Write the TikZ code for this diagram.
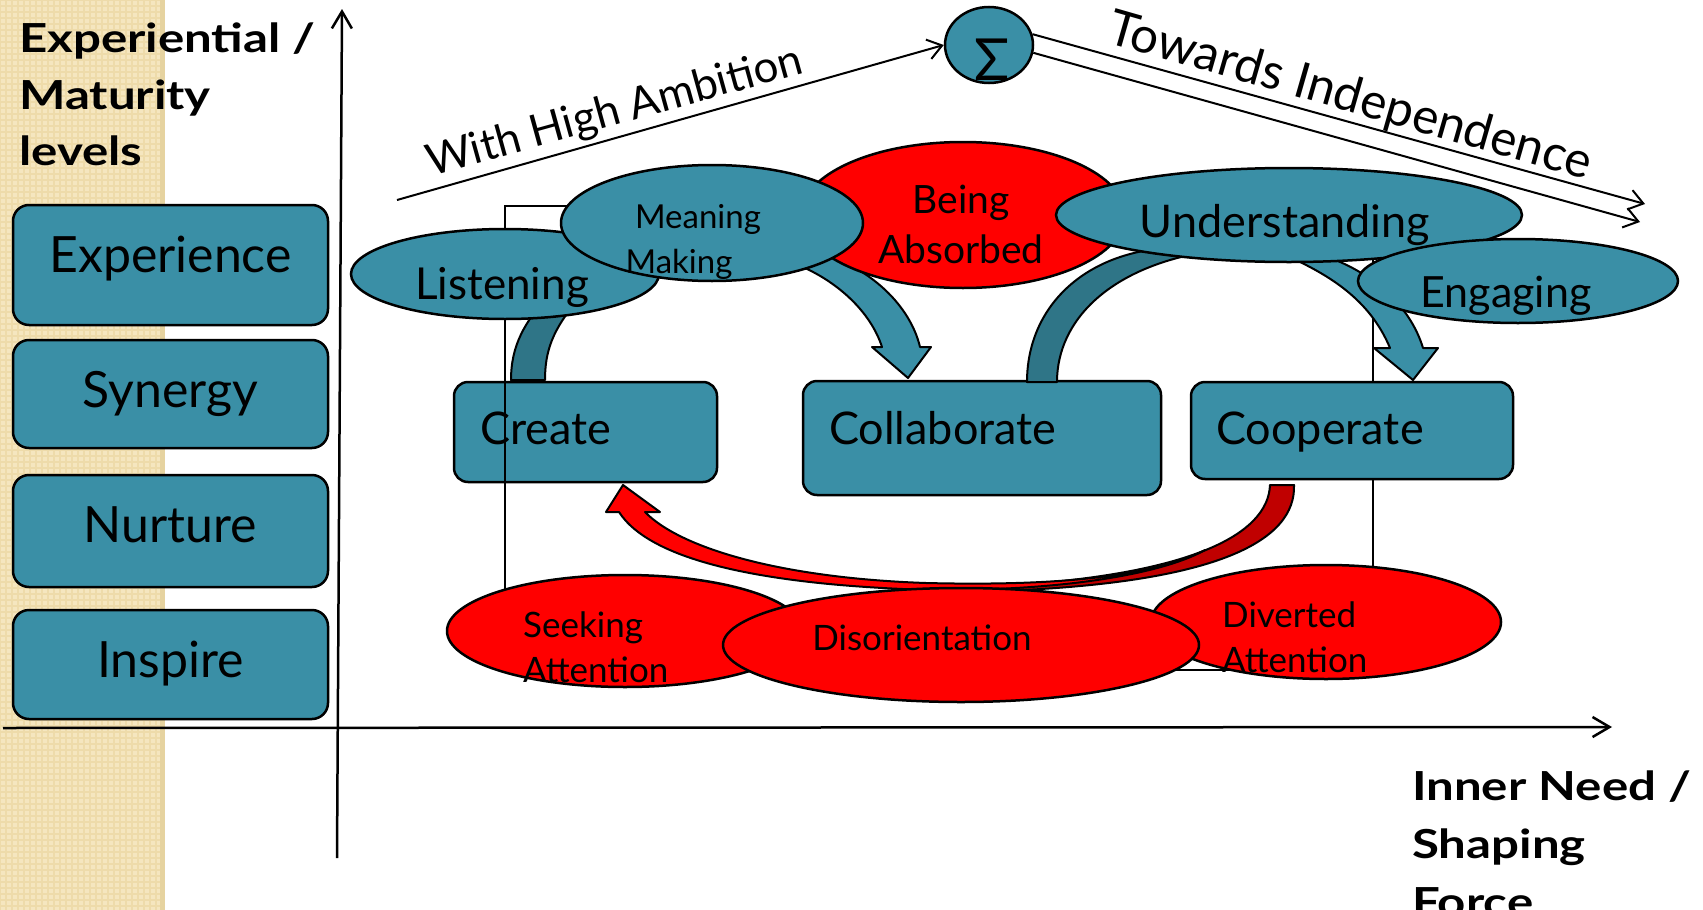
\documentclass[tikz,border=0pt]{standalone}
\usepackage{graphicx}
\usepackage{fontspec}
\setmainfont{Lato}
\usetikzlibrary{arrows.meta,shapes.geometric}
\definecolor{boxteal}{HTML}{3A8FA6}
\definecolor{bandteal}{HTML}{2F7587}
\definecolor{hotred}{HTML}{FF0000}
\definecolor{deepred}{HTML}{C00000}
\definecolor{paper}{HTML}{F5E6BF}
\definecolor{paperline}{HTML}{EEDBAA}
\definecolor{papershade}{HTML}{E6D3A0}
\newcommand\setfs[1]{\fontsize{#1}{#1}\selectfont}
\newcommand\wide[1]{\scalebox{1.23}[1]{#1}}

\begin{document}
\begin{tikzpicture}[x=1pt,y=-1pt,
  outl/.style={draw=black, line width=2.5pt},
  levelbox/.style={outl, fill=boxteal, rounded corners=16pt, minimum width=315pt, inner sep=0pt},
  stagebox/.style={outl, fill=boxteal, rounded corners=14pt, inner sep=0pt},
  blob/.style={outl, ellipse, inner sep=0pt},
  tealblob/.style={blob, fill=boxteal},
  redblob/.style={blob, fill=hotred},
  txt/.style={inner sep=0pt, text=black},
  headtxt/.style={txt, anchor=base west, font=\setfs{40}\bfseries},
  axis/.style={draw=black, line width=2.5pt, -{Straight Barb[length=17pt,width=20pt,line width=2.5pt]}},
  ray/.style={draw=black, line width=2pt, -{Straight Barb[length=14pt,width=20pt,line width=2pt]}},
  band/.style={draw=black, line width=2pt, line join=round}
]
\useasboundingbox (0,0) rectangle (1703,910);
\fill[white] (0,0) rectangle (1703,910);

% textured side panel
\fill[paper] (0,0) rectangle (165,910);
\draw[paperline, line width=2pt, step=6pt] (0,0) grid (165,910);
\fill[papershade] (160,0) rectangle (165,910);

% axis titles
\node[headtxt] (ttla) at (19,52) {\wide{Experiential /}};
\node[headtxt] (ttlb) at (19,109) {\wide{Maturity}};
\node[headtxt] (ttlc) at (19,165) {\wide{levels}};
\node[headtxt] (inna) at (1412,800) {\wide{Inner Need /}};
\node[headtxt] (innb) at (1412,858) {\wide{Shaping}};
\node[headtxt] (innc) at (1412,916) {\wide{Force}};

% maturity levels
\node[levelbox, minimum height=120pt] (lvexp) at (170.5,265) {};
\node[levelbox, minimum height=108pt] (lvsyn) at (170.5,394) {};
\node[levelbox, minimum height=112pt] (lvnur) at (170.5,531) {};
\node[levelbox, minimum height=109pt] (lvins) at (170.5,664.5) {};
\node[txt, anchor=base, font=\setfs{50}] (lvexpt) at (170.5,272) {Experience};
\node[txt, anchor=base, font=\setfs{50}] (lvsynt) at (170.5,407) {Synergy};
\node[txt, anchor=base, font=\setfs{50}] (lvnurt) at (170.5,542) {Nurture};
\node[txt, anchor=base, font=\setfs{50}] (lvinst) at (170.5,677) {Inspire};

% axes
\coordinate (yfoot) at (337,858);
\coordinate (ytip) at (342,9);
\coordinate (xfoot) at (3,728);
\coordinate (xtip) at (1612,727);
\draw[axis] (yfoot) -- (ytip);
\draw[axis] (xfoot) -- (xtip);

% stages and frame
\node[stagebox, minimum width=263pt, minimum height=100pt] (create) at (585.5,432) {};
\draw[black, line width=1.5pt] (505,206) rectangle (1373,670);
\node[stagebox, minimum width=358pt, minimum height=114pt] (collab) at (982,438) {};
\node[stagebox, minimum width=322pt, minimum height=97pt] (coop) at (1352,430.5) {};

% curved arrow: Create -> Collaborate
\path[band, fill=bandteal] (511,380) -- (545,380) .. controls (545,352) and (552,330) .. (578,300)
  -- (548,296) .. controls (525,322) and (511,345) .. (511,380) -- cycle;
\path[band, fill=boxteal] (798,265) .. controls (835,280) and (870,310) .. (882,347)
  -- (872,347) -- (908,378) -- (931,347) -- (920,347)
  .. controls (910,305) and (870,268) .. (822,254) -- cycle;

% curved arrow: Collaborate -> Cooperate
\path[band, fill=bandteal] (1027,382) .. controls (1027,310) and (1080,255) .. (1165,248)
  -- (1205,252) .. controls (1110,268) and (1057,320) .. (1057,382) -- cycle;
\path[band, fill=boxteal] (1285,255) .. controls (1330,275) and (1370,300) .. (1390,348)
  -- (1374,348) -- (1413,380) -- (1438,348) -- (1423,348)
  .. controls (1410,305) and (1370,268) .. (1312,252) -- cycle;

% curved arrow: Cooperate -> Create
\path[band, fill=deepred] (1270,485) -- (1294,485) .. controls (1296,540) and (1220,583) .. (1000,591)
  -- (1000,586) .. controls (1190,575) and (1268,535) .. (1270,485) -- cycle;
\path[band, fill=hotred] (619,512) .. controls (650,560) and (760,585) .. (930,590)
  .. controls (1080,591) and (1170,570) .. (1205,550)
  .. controls (1150,578) and (1050,586) .. (926,583)
  .. controls (780,578) and (680,548) .. (645,512)
  -- (660,512) -- (623,485) -- (606,512) -- cycle;

% upper states
\node[redblob, minimum width=324pt, minimum height=146pt] (absorbed) at (963,215) {};
\node[tealblob, minimum width=308pt, minimum height=90pt] (listen) at (505,274) {};
\node[tealblob, minimum width=302pt, minimum height=116pt] (meaning) at (712,223) {};
\node[tealblob, minimum width=466pt, minimum height=94pt] (underst) at (1289,215) {};
\node[tealblob, minimum width=320pt, minimum height=84pt] (engage) at (1518,281) {};

% lower states
\node[redblob, minimum width=356pt, minimum height=112pt] (seeking) at (625,631) {};
\node[redblob, minimum width=350pt, minimum height=114pt] (diverted) at (1326,622) {};
\node[redblob, minimum width=476pt, minimum height=114pt] (disor) at (961,645) {};

% summation and the two directions
\node[tealblob, minimum width=88pt, minimum height=76pt] (sigma) at (989,45) {};
\coordinate (ambfoot) at (397,200);
\coordinate (indA) at (1645,204);
\coordinate (indB) at (1640,222);
\draw[ray] (ambfoot) -- (sigma.west);
\draw[ray] (sigma.14) -- (indA);
\draw[ray] (sigma.-10) -- (indB);
\node[txt, anchor=base, font=\setfs{58}] (sigmat) at (992,80) {Σ};
\node[txt, anchor=base, rotate=15.5, font=\setfs{44}] (ambt) at (618,124.5) {With High Ambition};
\node[txt, anchor=base, rotate=-16, font=\setfs{49.5}] (indt) at (1346,111) {Towards Independence};

% labels
\node[txt, anchor=base west, font=\setfs{45}] (createt) at (480,444) {Create};
\node[txt, anchor=base west, font=\setfs{45}] (collabt) at (829,444) {Collaborate};
\node[txt, anchor=base west, font=\setfs{45}] (coopt) at (1216,444) {Cooperate};
\node[txt, anchor=base, font=\setfs{44}] (listent) at (502,299) {Listening};
\node[txt, anchor=base, font=\setfs{33}] (meanta) at (698,228) {Meaning};
\node[txt, anchor=base, font=\setfs{33}] (meantb) at (679,273) {Making};
\node[txt, anchor=base, font=\setfs{39}] (absta) at (961,213) {Being};
\node[txt, anchor=base, font=\setfs{39}] (abstb) at (961,263) {Absorbed};
\node[txt, anchor=base, font=\setfs{45}] (underst-t) at (1285,237) {Understanding};
\node[txt, anchor=base, font=\setfs{43}] (engaget) at (1506,307) {Engaging};
\node[txt, anchor=base west, font=\setfs{35}] (seekta) at (523,637) {Seeking};
\node[txt, anchor=base west, font=\setfs{35}] (seektb) at (523,682) {Attention};
\node[txt, anchor=base, font=\setfs{35}] (disort) at (922,650) {Disorientation};
\node[txt, anchor=base west, font=\setfs{35}] (diverta) at (1222,627) {Diverted};
\node[txt, anchor=base west, font=\setfs{35}] (divertb) at (1222,672) {Attention};
\end{tikzpicture}
\end{document}
